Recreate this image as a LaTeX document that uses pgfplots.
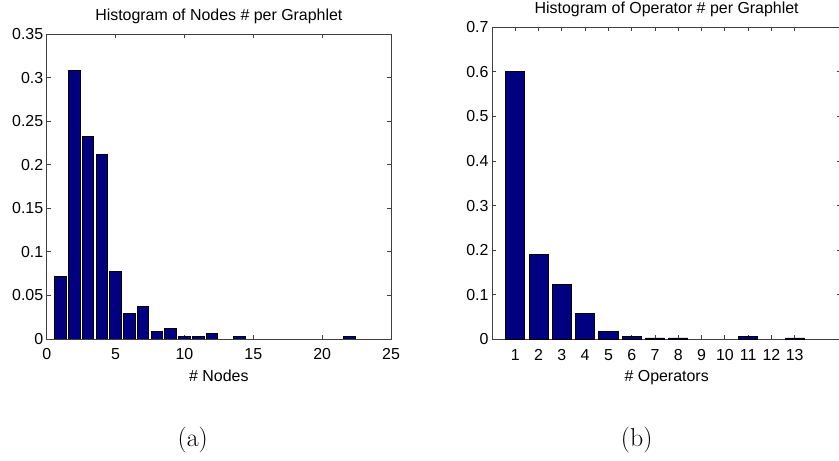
\documentclass[border=0pt]{standalone}
\usepackage{pgfplots}
\pgfplotsset{compat=1.18}
\usepackage{fontspec}
\newfontfamily\arial{Liberation Sans}

\definecolor{matnavy}{RGB}{0,0,128}

\pgfplotsset{
  matlabhist/.style={
    scale only axis,
    anchor=south west,
    enlargelimits=false,
    ymin=0,
    axis line style={black!75, line width=0.8bp},
    every tick/.style={black!75, line width=0.8bp},
    major tick length=4bp,
    tick align=inside,
    scaled y ticks=false,
    font=\arial\fontsize{16}{19}\selectfont,
    /pgf/number format/assume math mode=true,
    yticklabel style={/pgf/number format/fixed, /pgf/number format/precision=2},
    xticklabel style={anchor=base, yshift=-21bp},
    title style={at={(0.5,1)}, anchor=base, yshift=8bp},
    xlabel style={at={(0.5,0)}, anchor=base, yshift=-42bp},
  },
  histbars/.style={ybar, fill=matnavy, draw=black, line width=0.9bp},
}

\begin{document}
\begin{tikzpicture}
\useasboundingbox (0,0) rectangle (839bp,461bp);
\clip (0,0) rectangle (839bp,461bp);

% (a) nodes per graphlet
\begin{axis}[
  matlabhist,
  at={(46.7bp,122bp)},
  width=344.3bp, height=305bp,
  xmin=0, xmax=25, ymax=0.35,
  xtick={0,5,...,25},
  ytick={0,0.05,...,0.35},
  title={Histogram of Nodes \# per Graphlet},
  xlabel={\# Nodes},
]
\addplot[histbars, bar width=0.84] coordinates {
  (1,0.072) (2,0.308) (3,0.232) (4,0.212) (5,0.077) (6,0.029) (7,0.037)
  (8,0.009) (9,0.012) (10,0.003) (11,0.003) (12,0.006) (14,0.003) (22,0.003)
};
\end{axis}

% (b) operators per graphlet
\begin{axis}[
  matlabhist,
  at={(492bp,121.7bp)},
  width=349.3bp, height=312bp,
  xmin=0, xmax=15, ymax=0.7,
  xtick={1,...,13},
  ytick={0,0.1,...,0.7},
  title={Histogram of Operator \# per Graphlet},
  xlabel={\# Operators},
]
\addplot[histbars, bar width=0.82] coordinates {
  (1,0.600) (2,0.190) (3,0.124) (4,0.059) (5,0.018) (6,0.006) (7,0.003)
  (8,0.003) (11,0.006) (13,0.003)
};
\end{axis}

\node[anchor=base, font=\fontsize{26}{30}\selectfont] at (192.7bp,15bp) {(a)};
\node[anchor=base, font=\fontsize{26}{30}\selectfont] at (636.7bp,15bp) {(b)};
\end{tikzpicture}
\end{document}
